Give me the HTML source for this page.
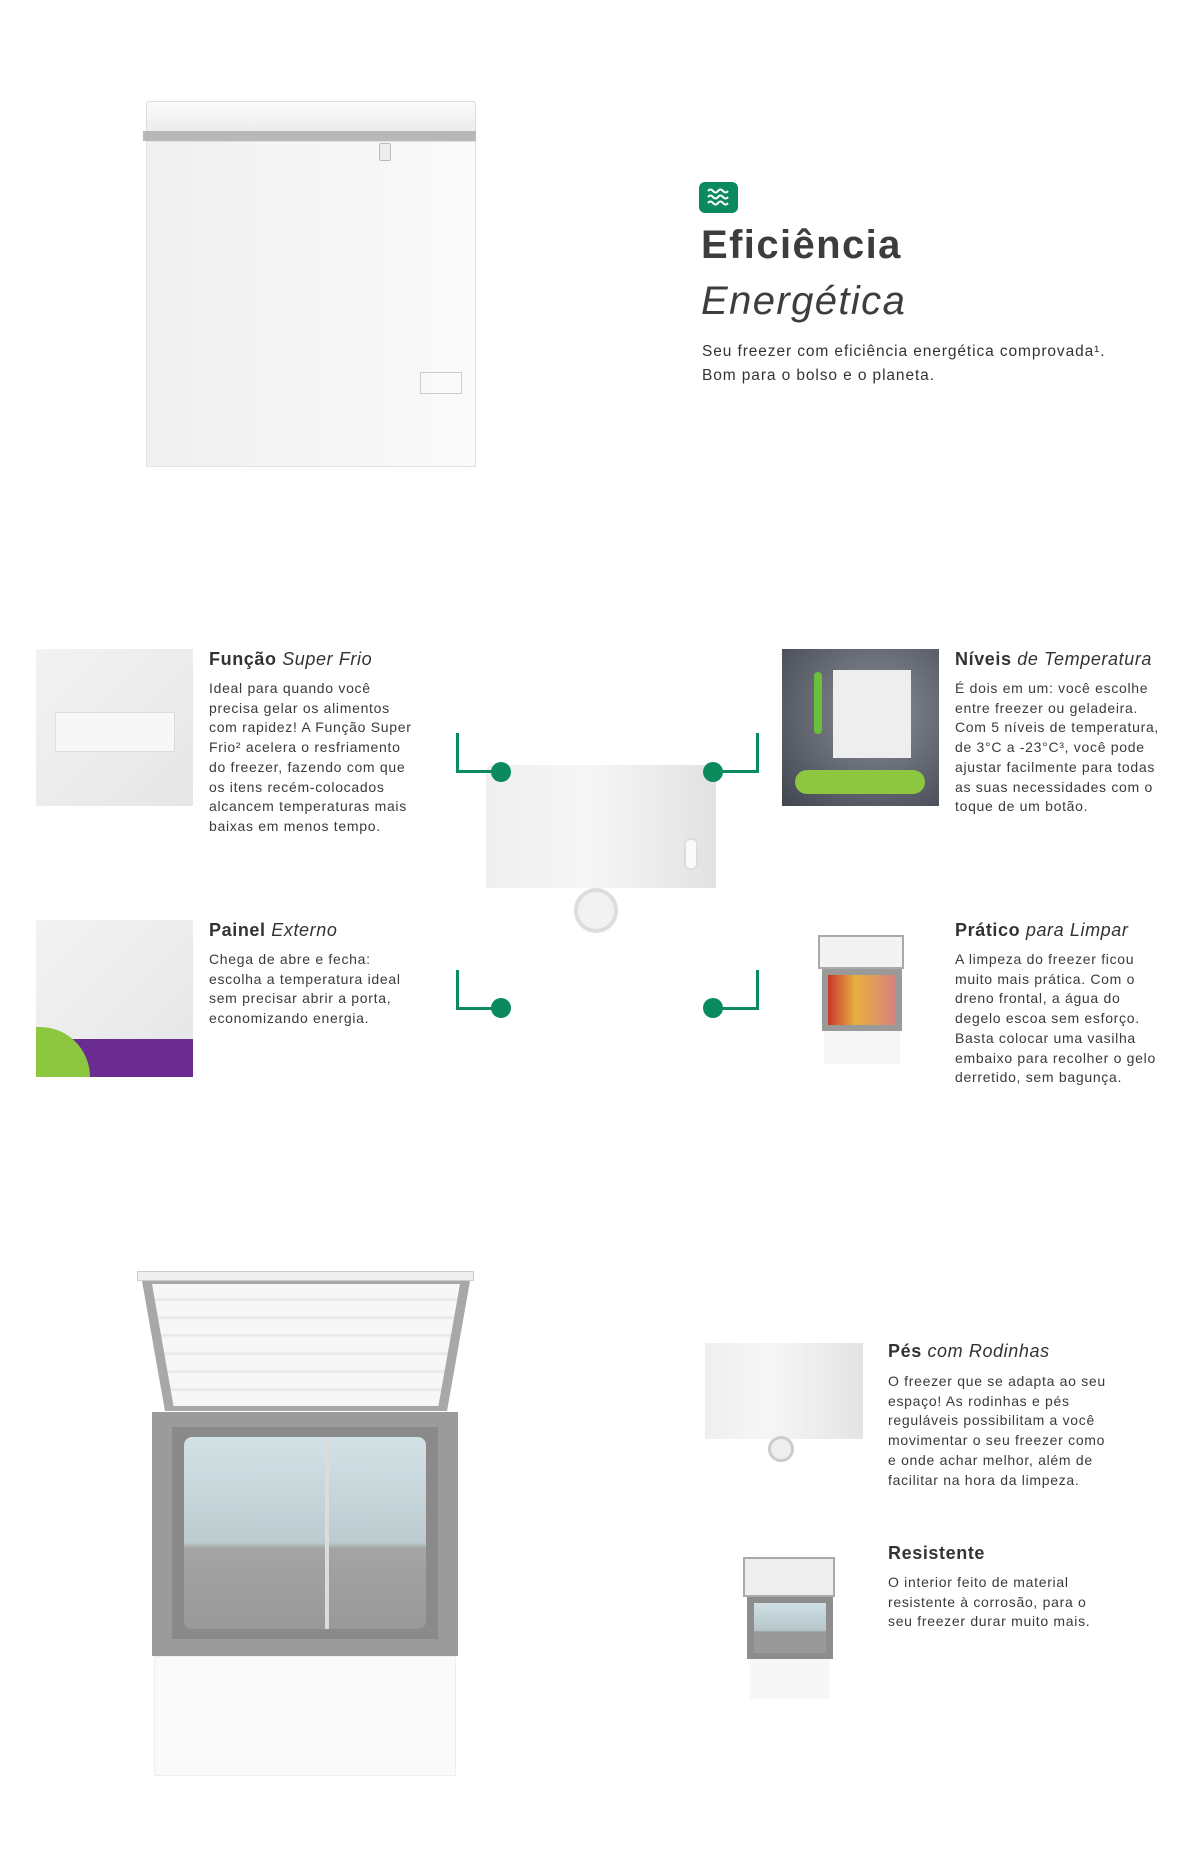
<!DOCTYPE html>
<html><head><meta charset="utf-8"><style>
*{margin:0;padding:0;box-sizing:border-box}
body{width:1189px;height:1856px;background:#fff;position:relative;overflow:hidden;font-family:"Liberation Sans",sans-serif;color:#3a3a3a}
.a{position:absolute}
.t{font-size:18px;font-weight:bold;letter-spacing:.6px;color:#333;white-space:nowrap}
.t i{font-weight:normal}
.p{font-size:14px;line-height:19.7px;letter-spacing:.7px;color:#3a3a3a;white-space:nowrap}
.g{background:#0b8a5e}
.dot{width:20px;height:20px;border-radius:50%;background:#0b8a5e}
.box{background:linear-gradient(135deg,#f2f2f2,#e6e6e6)}
</style></head><body>

<!-- top freezer -->
<div class="a" style="left:146px;top:101px;width:330px;height:32px;background:linear-gradient(#fafafa,#ececec);border:1px solid #ddd;border-radius:3px"></div>
<div class="a" style="left:143px;top:131px;width:333px;height:10px;background:#b8b8b8"></div>
<div class="a" style="left:146px;top:141px;width:330px;height:326px;background:linear-gradient(90deg,#f0f0f0 0,#f4f4f4 40%,#fafafa 100%);border:1px solid #e2e2e2"></div>
<div class="a" style="left:379px;top:143px;width:12px;height:18px;background:#eee;border:1px solid #bbb;border-radius:2px"></div>
<div class="a" style="left:420px;top:372px;width:42px;height:22px;border:1px solid #ccc"></div>

<div class="a g" style="left:699px;top:182px;width:39px;height:31px;border-radius:6px">
<svg width="39" height="31" viewBox="0 0 39 31"><g fill="none" stroke="#fff" stroke-width="2"><path d="M9 9q2.5-3 5 0t5 0t5 0t5 0"/><path d="M9 15q2.5-3 5 0t5 0t5 0t5 0"/><path d="M9 21q2.5-3 5 0t5 0t5 0t5 0"/></g></svg></div>
<div class="a" style="left:701px;top:223px;font-size:40px;font-weight:bold;letter-spacing:1.4px;color:#3d3d3d">Eficiência</div>
<div class="a" style="left:701px;top:279px;font-size:40px;font-style:italic;letter-spacing:1.4px;color:#3d3d3d">Energética</div>
<div class="a" style="left:702px;top:340px;font-size:15.5px;line-height:23.5px;letter-spacing:.9px;color:#333;white-space:nowrap">Seu freezer com eficiência energética comprovada¹.<br>Bom para o bolso e o planeta.</div>

<!-- Super Frio -->
<div class="a box" style="left:36px;top:649px;width:157px;height:157px"></div>
<div class="a" style="left:55px;top:712px;width:120px;height:40px;background:#f7f7f7;border:1px solid #ddd"></div>
<div class="a t" style="left:209px;top:649px">Função <i>Super Frio</i></div>
<div class="a p" style="left:209px;top:679px">Ideal para quando você<br>precisa gelar os alimentos<br>com rapidez! A Função Super<br>Frio² acelera o resfriamento<br>do freezer, fazendo com que<br>os itens recém-colocados<br>alcancem temperaturas mais<br>baixas em menos tempo.</div>

<!-- Niveis -->
<div class="a" style="left:782px;top:649px;width:157px;height:157px;background:radial-gradient(circle at 60% 40%,#8a8e98,#41454f)"></div>
<div class="a" style="left:833px;top:670px;width:78px;height:88px;background:#eee"></div>
<div class="a" style="left:814px;top:672px;width:8px;height:62px;background:#6cbf3a;border-radius:4px"></div>
<div class="a" style="left:795px;top:770px;width:130px;height:24px;background:#8dc63f;border-radius:12px"></div>
<div class="a t" style="left:955px;top:649px">Níveis <i>de Temperatura</i></div>
<div class="a p" style="left:955px;top:679px">É dois em um: você escolhe<br>entre freezer ou geladeira.<br>Com 5 níveis de temperatura,<br>de 3°C a -23°C³, você pode<br>ajustar facilmente para todas<br>as suas necessidades com o<br>toque de um botão.</div>

<!-- center -->
<div class="a" style="left:486px;top:765px;width:230px;height:123px;background:linear-gradient(90deg,#efefef,#f6f6f6 45%,#e2e2e2);border-radius:6px 0 0 0"></div>
<div class="a" style="left:574px;top:888px;width:44px;height:45px;border-radius:50%;border:4px solid #ddd;background:#f2f2f2"></div>
<div class="a" style="left:684px;top:838px;width:14px;height:32px;border:2px solid #ddd;border-radius:6px;background:#fafafa"></div>
<div class="a g" style="left:456px;top:733px;width:3px;height:40px"></div>
<div class="a g" style="left:456px;top:770px;width:45px;height:3px"></div>
<div class="a dot" style="left:491px;top:762px"></div>
<div class="a g" style="left:756px;top:733px;width:3px;height:40px"></div>
<div class="a g" style="left:713px;top:770px;width:46px;height:3px"></div>
<div class="a dot" style="left:703px;top:762px"></div>
<div class="a g" style="left:456px;top:970px;width:3px;height:40px"></div>
<div class="a g" style="left:456px;top:1007px;width:45px;height:3px"></div>
<div class="a dot" style="left:491px;top:998px"></div>
<div class="a g" style="left:756px;top:970px;width:3px;height:40px"></div>
<div class="a g" style="left:713px;top:1007px;width:46px;height:3px"></div>
<div class="a dot" style="left:703px;top:998px"></div>

<!-- Painel -->
<div class="a box" style="left:36px;top:920px;width:157px;height:157px"></div>
<div class="a" style="left:36px;top:1039px;width:157px;height:38px;background:#6a2c91"></div>
<div class="a" style="left:36px;top:1027px;width:54px;height:50px;background:#8dc63f;border-radius:0 50px 0 0"></div>
<div class="a t" style="left:209px;top:920px">Painel <i>Externo</i></div>
<div class="a p" style="left:209px;top:950px">Chega de abre e fecha:<br>escolha a temperatura ideal<br>sem precisar abrir a porta,<br>economizando energia.</div>

<!-- Pratico -->
<div class="a" style="left:818px;top:935px;width:86px;height:34px;background:#f3f3f3;border:2px solid #aaa"></div>
<div class="a" style="left:822px;top:969px;width:80px;height:62px;background:#9a9a9a"></div>
<div class="a" style="left:828px;top:975px;width:68px;height:50px;background:linear-gradient(90deg,#c9372c,#e6b040 40%,#d88080)"></div>
<div class="a" style="left:824px;top:1031px;width:76px;height:33px;background:#f6f6f6"></div>
<div class="a t" style="left:955px;top:920px">Prático <i>para Limpar</i></div>
<div class="a p" style="left:955px;top:950px">A limpeza do freezer ficou<br>muito mais prática. Com o<br>dreno frontal, a água do<br>degelo escoa sem esforço.<br>Basta colocar uma vasilha<br>embaixo para recolher o gelo<br>derretido, sem bagunça.</div>

<!-- bottom big freezer -->
<div class="a" style="left:137px;top:1271px;width:337px;height:10px;background:#eee;border:1px solid #ccc"></div>
<div class="a" style="left:142px;top:1281px;width:328px;height:130px;background:#a8a8a8;clip-path:polygon(0 0,100% 0,93% 100%,7% 100%)"></div>
<div class="a" style="left:152px;top:1284px;width:308px;height:122px;background:repeating-linear-gradient(#f7f7f7 0,#f7f7f7 14px,#e4e4e4 15px,#f7f7f7 18px);clip-path:polygon(0 0,100% 0,93% 100%,7% 100%)"></div>
<div class="a" style="left:152px;top:1412px;width:306px;height:244px;background:#9b9b9b"></div>
<div class="a" style="left:172px;top:1427px;width:266px;height:212px;background:#8a8a8a"></div>
<div class="a" style="left:184px;top:1437px;width:242px;height:192px;background:linear-gradient(#d3e2e6,#bccbcf 55%,#a4a4a4 58%,#999);border-radius:8px"></div>
<div class="a" style="left:325px;top:1437px;width:4px;height:192px;background:#dcdcdc"></div>
<div class="a" style="left:154px;top:1656px;width:302px;height:120px;background:#fafafa;border:1px solid #eee"></div>

<!-- Pes -->
<div class="a" style="left:705px;top:1343px;width:158px;height:96px;background:linear-gradient(90deg,#efefef,#f6f6f6 40%,#e4e4e4)"></div>
<div class="a" style="left:768px;top:1436px;width:26px;height:26px;border-radius:50%;border:3px solid #ccc;background:#eee"></div>
<div class="a t" style="left:888px;top:1341px">Pés <i>com Rodinhas</i></div>
<div class="a p" style="left:888px;top:1372px">O freezer que se adapta ao seu<br>espaço! As rodinhas e pés<br>reguláveis possibilitam a você<br>movimentar o seu freezer como<br>e onde achar melhor, além de<br>facilitar na hora da limpeza.</div>

<!-- Resistente -->
<div class="a" style="left:743px;top:1557px;width:92px;height:40px;background:#eee;border:2px solid #aaa"></div>
<div class="a" style="left:747px;top:1597px;width:86px;height:62px;background:#8d8d8d"></div>
<div class="a" style="left:754px;top:1603px;width:72px;height:50px;background:linear-gradient(#cfdfe3,#b5c6cb 55%,#999 58%)"></div>
<div class="a" style="left:750px;top:1659px;width:80px;height:40px;background:#f7f7f7"></div>
<div class="a t" style="left:888px;top:1543px">Resistente</div>
<div class="a p" style="left:888px;top:1573px">O interior feito de material<br>resistente à corrosão, para o<br>seu freezer durar muito mais.</div>

</body></html>
